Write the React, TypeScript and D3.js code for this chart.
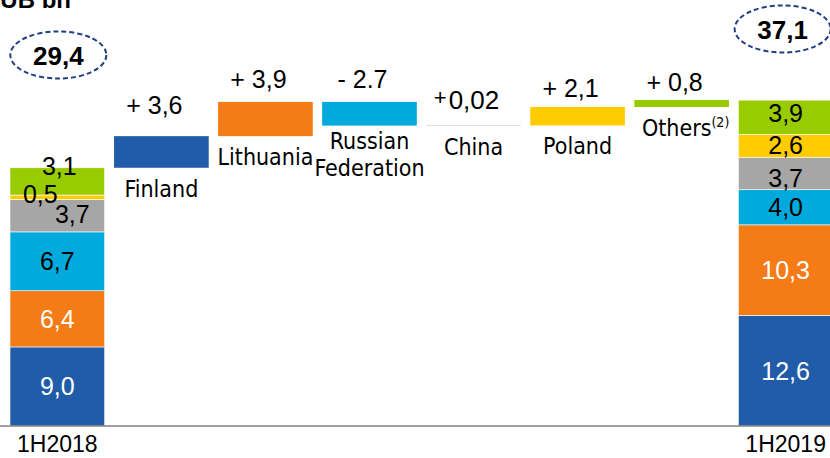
import React from "react";
import * as d3 from "d3";

// ---- data ----
const periods = ["1H2018", "1H2019"];
const countries = ["Finland", "Lithuania", "Russian Federation", "China", "Poland", "Others"];
const values2018 = [9.0, 6.4, 6.7, 3.7, 0.5, 3.1];
const values2019 = [12.6, 10.3, 4.0, 3.7, 2.6, 3.9];
const labels2018 = ["9,0", "6,4", "6,7", "3,7", "0,5", "3,1"];
const labels2019 = ["12,6", "10,3", "4,0", "3,7", "2,6", "3,9"];
const deltas = [3.6, 3.9, -2.7, 0.02, 2.1, 0.8];
const deltaLabels = ["+ 3,6", "+ 3,9", "- 2.7", "+0,02", "+ 2,1", "+ 0,8"];
const totals = [29.4, 37.1];
const totalLabels = ["29,4", "37,1"];
const unitTitle = "RUB bn";

// ---- styles / layout ----
const colors = ["#215CA8", "#F47B16", "#00AADC", "#A6A6A6", "#FFCC00", "#99CC00"];
const whiteText = [true, true, false, false, false, false];
const W = 830, H = 458;
const baseY = 426;
const numFont = "'Liberation Sans', Arial, sans-serif";
const nameFont = "'DejaVu Sans Condensed', 'DejaVu Sans', sans-serif";
// small label nudges (dx, dy) for the stacked bars
const nudge2018 = [[0, 0], [0, 0], [0, 0], [15, -2], [-17, -3], [2, -15]];
const nudge2019 = [[0, 0], [0, 0], [0, 0], [0, 5], [0, -1], [0, -4]];
const deltaDy = [-22, -14, -14, -16, -10, -9];
const ellipseCy = [55, 29];

export default function App() {
  const slots = [periods[0], ...countries, periods[1]];
  const x = d3.scaleBand<string>().domain(slots).range([10, 833]).paddingInner(0.09).paddingOuter(0);
  const y = d3.scaleLinear().domain([0, 48.5]).range([baseY, 0]);
  const bw = x.bandwidth();

  const stack = (vals: number[]) => {
    let acc = 0;
    return vals.map((v) => {
      const s = { y0: acc, y1: acc + v };
      acc += v;
      return s;
    });
  };
  const st = [stack(values2018), stack(values2019)];
  const labs = [labels2018, labels2019];
  const nudges = [nudge2018, nudge2019];

  let run = totals[0];
  const wf = deltas.map((d) => {
    const s = run;
    run += d;
    return { lo: Math.min(s, run), hi: Math.max(s, run) };
  });

  return (
    <svg width={W} height={H} style={{ position: "absolute", left: 0, top: 0, background: "#fff" }}>
      <text x={-17} y={8} fontFamily={numFont} fontWeight="bold" fontSize={24} fill="#000">
        {unitTitle}
      </text>

      {/* stacked totals */}
      {periods.map((p, pi) => (
        <g key={p}>
          {st[pi].map((s, i) => (
            <rect
              key={i}
              x={x(p)!}
              y={y(s.y1)}
              width={bw}
              height={y(s.y0) - y(s.y1)}
              fill={colors[i]}
              stroke="#fff"
              strokeWidth={0.6}
            />
          ))}
          {st[pi].map((s, i) => (
            <text
              key={"l" + i}
              x={x(p)! + bw / 2 + nudges[pi][i][0]}
              y={y((s.y0 + s.y1) / 2) + nudges[pi][i][1] + 9}
              textAnchor="middle"
              fontFamily={numFont}
              fontSize={25}
              fill={whiteText[i] ? "#fff" : "#000"}
            >
              {labs[pi][i]}
            </text>
          ))}
          <ellipse
            cx={x(p)! + bw / 2 + (pi === 0 ? 1 : -3)}
            cy={ellipseCy[pi]}
            rx={48}
            ry={23.5}
            fill="none"
            stroke="#1F3F80"
            strokeWidth={2}
            strokeDasharray="5,3"
          />
          <text
            x={x(p)! + bw / 2 + (pi === 0 ? 1 : -3)}
            y={ellipseCy[pi] + 10}
            textAnchor="middle"
            fontFamily={numFont}
            fontWeight="bold"
            fontSize={26}
            fill="#000"
          >
            {totalLabels[pi]}
          </text>
          <text
            x={x(p)! + bw / 2}
            y={452}
            textAnchor="middle"
            fontFamily={numFont}
            fontSize={23}
            fill="#000"
          >
            {p}
          </text>
        </g>
      ))}

      {/* waterfall deltas */}
      {countries.map((c, i) => {
        const cx = x(c)! + bw / 2;
        const top = y(wf[i].hi);
        const bottom = y(wf[i].lo);
        const h = bottom - top;
        const thin = h < 1;
        const lines = c === "Russian Federation" ? ["Russian", "Federation"] : [c];
        const nameY = lines.length > 1 ? bottom + 23 : bottom + 29;
        return (
          <g key={c}>
            <rect
              x={x(c)!}
              y={thin ? top - 0.5 : top}
              width={bw}
              height={thin ? 1 : h}
              fill={colors[i]}
              fillOpacity={thin ? 0.35 : 1}
            />
            <text
              x={cx - 7}
              y={top + deltaDy[i]}
              textAnchor="middle"
              fontFamily={numFont}
              fontSize={25}
              fill="#000"
            >
              {c === "China" ? (
                <>
                  <tspan fontSize={22} dy={-4}>+</tspan>
                  <tspan fontSize={26} dx={2} dy={4}>{deltaLabels[i].slice(1)}</tspan>
                </>
              ) : (
                deltaLabels[i]
              )}
            </text>
            <text
              x={cx + (c === "Others" ? 4 : 0)}
              y={nameY}
              textAnchor="middle"
              fontFamily={nameFont}
              fontStretch="condensed"
              fontSize={23}
              fill="#000"
            >
              {lines.map((l, li) =>
                c === "Others" ? (
                  <React.Fragment key={li}>
                    <tspan>{l}</tspan>
                    <tspan fontSize={14} dy={-9}>{"(2)"}</tspan>
                  </React.Fragment>
                ) : (
                  <tspan key={li} x={cx} dy={li === 0 ? 0 : 27}>
                    {l}
                  </tspan>
                )
              )}
            </text>
          </g>
        );
      })}

      <line x1={0} x2={W} y1={baseY} y2={baseY} stroke="#808080" strokeWidth={1.5} />
    </svg>
  );
}
